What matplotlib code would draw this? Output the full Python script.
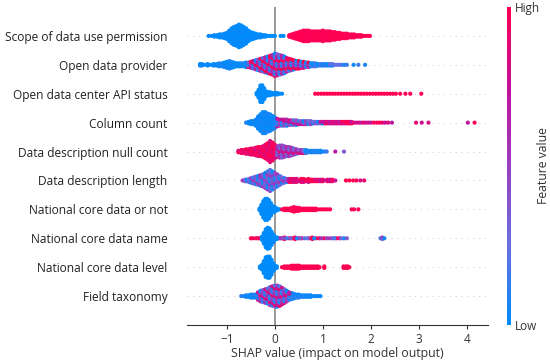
import numpy as np
import matplotlib
matplotlib.use('Agg')
import matplotlib.pyplot as plt
from matplotlib.cm import ScalarMappable
from matplotlib.colors import LinearSegmentedColormap

plt.rcParams['font.family'] = ['Open Sans', 'DejaVu Sans']

features = ['Scope of data use permission', 'Open data provider', 'Open data center API status',
            'Column count', 'Data description null count', 'Data description length',
            'National core data or not', 'National core data name', 'National core data level',
            'Field taxonomy']
x_ticks = [-1, 0, 1, 2, 3, 4]

# x = shap value, n = how many dots are piled up there
scope_low_x = [-1.38, -1.32, -1.26, -1.2, -1.15, -1.1, -1.05, -1.0, -.95, -.9, -.85, -.8, -.75, -.7, -.65, -.6, -.55,
               -.5, -.45, -.4, -.35, -.3, -.25, -.2, -.15, -.1, -.05, 0.0, .12, .18, .38, .62]
scope_low_n = [1, 1, 2, 2, 3, 3, 4, 5, 8, 11, 13, 14, 16, 15, 13, 11, 8, 6, 5, 4, 3, 3, 2, 2, 1, 1, 1, 1, 1, 1, 2, 1]
scope_high_x = [.3, .35, .4, .45, .5, .55, .6, .65, .7, .75, .8, .85, .9, .95, 1.0, 1.05, 1.1, 1.15, 1.2, 1.25, 1.3,
                1.35, 1.4, 1.45, 1.5, 1.55, 1.6, 1.65, 1.7, 1.75, 1.8, 1.85, 1.9, 1.95, 1.98]
scope_high_n = [2, 3, 4, 5, 6, 7, 8, 8, 8, 7, 7, 7, 7, 7, 8, 7, 7, 7, 6, 6, 5, 5, 4, 4, 4, 3, 3, 3, 2, 2, 2, 1, 1, 1, 1]

provider_low_x = [-1.56, -1.52, -1.46, -1.4, -1.34, -1.28, -1.22, -1.16, -1.1, -1.05, -1.0, -.95, -.9, -.85, -.8, -.75,
                  -.7, -.65, -.6]
provider_low_n = [2, 2, 1, 2, 1, 2, 2, 3, 3, 4, 5, 6, 5, 4, 3, 3, 3, 3, 4]
provider_mid_x = [-.55, -.5, -.45, -.4, -.35, -.3, -.25, -.2, -.15, -.1, -.05, 0.0, .05, .1, .15, .2, .25, .3, .35, .4,
                  .45, .5, .55, .6, .65, .7, .75]
provider_mid_n = [4, 5, 6, 7, 8, 9, 10, 11, 12, 13, 14, 16, 15, 14, 13, 12, 10, 9, 8, 7, 6, 6, 5, 5, 4, 4, 3]
provider_tail_x = [.8, .85, .9, .95, 1.0, 1.05, 1.1, 1.15, 1.2, 1.25, 1.3, 1.35, 1.4, 1.45, 1.5, 1.64, 1.74, 1.88]
provider_tail_n = [3, 3, 2, 2, 2, 2, 2, 2, 2, 1, 1, 1, 1, 1, 1, 1, 1, 1]

api_low_x = [-.38, -.34, -.3, -.26, -.22, -.18, -.14, -.1, -.05, 0.0, .05, .1, .15]
api_low_n = [2, 6, 12, 12, 8, 4, 3, 3, 2, 2, 2, 1, 1]
api_high_x = [.84, .9, .96, 1.02, 1.08, 1.14, 1.2, 1.26, 1.32, 1.38, 1.44, 1.5, 1.56, 1.62, 1.68, 1.74, 1.8, 1.86,
              1.92, 1.98, 2.04, 2.1, 2.16, 2.22, 2.28, 2.34, 2.4, 2.46, 2.52, 2.61, 2.72, 2.82, 3.05]
api_high_n = [1] * 33

column_low_x = [-.6, -.55, -.5, -.45, -.4, -.35, -.3, -.25, -.2, -.15, -.1, -.05, 0.0]
column_low_n = [1, 2, 3, 3, 5, 9, 12, 15, 15, 13, 12, 10, 8]
column_mid_x = [.05, .1, .15, .2, .25, .3, .35, .4, .45, .5, .55, .6, .65, .7, .75, .8, .85, .9, .95, 1.0]
column_mid_n = [6, 5, 5, 5, 5, 4, 4, 4, 4, 3, 3, 3, 3, 3, 3, 2, 2, 2, 2, 2]
column_high_x = [1.05, 1.1, 1.15, 1.2, 1.25, 1.3, 1.35, 1.4, 1.45, 1.5, 1.55, 1.6, 1.65, 1.7, 1.75, 1.8, 1.85, 1.9,
                 1.95, 2.0, 2.06, 2.12, 2.18, 2.24, 2.3, 2.36, 2.44, 2.94, 3.06, 3.2, 4.02, 4.16]
column_high_n = [2, 2, 2, 2, 2, 2, 2, 2, 2, 2, 2, 2, 1, 1, 1, 1, 1, 1, 1, 1, 1, 1, 1, 1, 1, 1, 1, 1, 1, 1, 1, 1]

null_high_x = [-.76, -.7, -.65, -.6, -.55, -.5, -.45, -.4, -.35, -.3, -.25, -.2, -.15, -.1, -.05, 0.0]
null_high_n = [2, 3, 3, 4, 4, 5, 5, 6, 7, 7, 8, 10, 12, 15, 13, 10]
null_mid_x = [.05, .1, .15, .2, .25, .3, .35, .4, .45, .5, .55, .6, 1.26, 1.44]
null_mid_n = [8, 9, 9, 8, 7, 7, 6, 5, 4, 3, 3, 3, 1, 1]
null_low_x = [.65, .7, .75, .8, .85, .9, .95, 1.0, 1.05, 1.08]
null_low_n = [3, 2, 2, 2, 2, 2, 2, 1, 1, 1]

length_mid_x = [-.67, -.62, -.58, -.54, -.5, -.45, -.4, -.35, -.3, -.25, -.2, -.15, -.1, -.05, 0.0, .05, .1, .15, .2,
                .25]
length_mid_n = [1, 2, 2, 3, 4, 5, 6, 7, 8, 9, 11, 13, 15, 13, 11, 9, 7, 5, 4, 3]
length_high_x = [.3, .35, .4, .45, .5, .55, .6, .65, .7, .75, .8, .85, .9, .95, 1.0, 1.05, 1.1, 1.15, 1.2, 1.26, 1.48,
                 1.55, 1.63, 1.7, 1.78, 1.86]
length_high_n = [3, 3, 3, 3, 2, 3, 3, 2, 3, 2, 2, 2, 2, 2, 2, 1, 2, 2, 2, 1, 1, 1, 1, 1, 1, 1]

core_low_x = [-.32, -.28, -.24, -.2, -.16, -.12, -.08, -.04, 0.0, .05, .1]
core_low_n = [2, 7, 12, 15, 15, 13, 9, 5, 4, 2, 1]
core_high_x = [.15, .2, .25, .3, .35, .4, .45, .5, .55, .6, .65, .7, .75, .8, .85, .9, .95, 1.0, 1.05, 1.1, 1.15, 1.6,
               1.65, 1.74]
core_high_n = [1, 2, 2, 2, 3, 4, 3, 3, 2, 2, 2, 2, 2, 2, 2, 1, 1, 1, 1, 1, 1, 1, 1, 1]

name_low_x = [-.27, -.23, -.19, -.15, -.11, -.07, -.03, 0.0, .04]
name_low_n = [3, 8, 13, 15, 14, 10, 6, 3, 2]
name_high_x = [-.5, -.46, -.4, -.36, -.32, .08, .14, .2, .3, .36, .42, .5, .56, .72, .78, .86, .92, 1.02, 1.28, 1.34]
name_high_n = [1, 1, 1, 1, 1, 1, 1, 2, 1, 1, 2, 1, 1, 1, 2, 1, 1, 1, 1, 1]
name_mix_x = [.11, .17, .25, .33, .46, .53, .62, .68, .82, .96, 1.08, 1.14, 1.2, 1.24, 1.38, 1.44, 1.5, 2.2, 2.24, 2.28]
name_mix_n = [1, 1, 1, 1, 1, 1, 1, 1, 1, 1, 1, 1, 1, 1, 1, 1, 1, 1, 2, 1]

level_low_x = [-.31, -.27, -.23, -.19, -.15, -.11, -.07, -.03, 0.0, .04]
level_low_n = [2, 4, 9, 14, 15, 15, 11, 6, 3, 2]
level_high_x = [.15, .2, .25, .3, .35, .4, .45, .5, .55, .6, .65, .7, .75, .8, .85, .9, .93, 1.03, 1.43, 1.48, 1.52,
                1.55]
level_high_n = [1, 2, 2, 2, 3, 3, 3, 3, 2, 2, 2, 2, 2, 2, 2, 2, 1, 2, 2, 2, 2, 1]

field_low_x = [-.7, -.65, -.6, -.55, -.5, -.45, -.4, .35, .4, .45, .5, .55, .6, .65, .7, .75, .8, .85, .9, .95]
field_low_n = [1, 1, 2, 2, 3, 3, 3, 5, 4, 3, 3, 2, 2, 2, 2, 2, 1, 1, 1, 1]
field_mid_x = [-.35, -.3, -.25, -.2, -.15, -.1, -.05, 0.0, .05, .1, .15, .2, .25, .3]
field_mid_n = [6, 8, 9, 10, 11, 13, 14, 15, 15, 14, 12, 10, 8, 6]

# x, n, feature value, spread of feature value inside a pile
rows = [
    [(scope_low_x, scope_low_n, 0.0, 0.03), (scope_high_x, scope_high_n, 1.0, 0.03)],
    [(provider_low_x, provider_low_n, 0.02, 0.04), (provider_mid_x, provider_mid_n, 0.55, 0.55),
     (provider_tail_x, provider_tail_n, 0.12, 0.12)],
    [(api_low_x, api_low_n, 0.0, 0.0), (api_high_x, api_high_n, 1.0, 0.0)],
    [(column_low_x, column_low_n, 0.03, 0.03), (column_mid_x, column_mid_n, 0.4, 0.4),
     (column_high_x, column_high_n, 0.85, 0.15)],
    [(null_high_x, null_high_n, 0.93, 0.1), (null_mid_x, null_mid_n, 0.55, 0.3), (null_low_x, null_low_n, 0.08, 0.08)],
    [(length_mid_x, length_mid_n, 0.28, 0.28), (length_high_x, length_high_n, 0.9, 0.15)],
    [(core_low_x, core_low_n, 0.0, 0.0), (core_high_x, core_high_n, 1.0, 0.0)],
    [(name_high_x, name_high_n, 0.97, 0.03), (name_mix_x, name_mix_n, 0.3, 0.25), (name_low_x, name_low_n, 0.0, 0.0)],
    [(level_low_x, level_low_n, 0.0, 0.0), (level_high_x, level_high_n, 1.0, 0.0)],
    [(field_low_x, field_low_n, 0.05, 0.05), (field_mid_x, field_mid_n, 0.45, 0.45)],
]
mix_cycle = [1, -1, 0.3, -0.6, 0.8, -0.2, -1, 0.5, 1, -0.4, 0.1]

red_blue = LinearSegmentedColormap.from_list('red_blue', ['#008bfb', '#6a6fe0', '#9a3fc0', '#c4109a', '#ff0052'])
text_color = '#333333'
stack_step = 0.052

fig = plt.figure(figsize=(5.5, 3.6), dpi=100)
ax = fig.add_axes([187 / 550, 35 / 360, 301 / 550, 318 / 360])

for i, segments in enumerate(rows):
    pos = len(rows) - 1 - i
    ax.axhline(pos, color='#cccccc', lw=0.7, linestyle=(0, (1, 5)), zorder=1)
    for xs, ns, value, spread in segments:
        px, py, pc = [], [], []
        for j, (x, n) in enumerate(zip(xs, ns)):
            for k in range(n):
                px.append(x)
                py.append(pos + (k - (n - 1) / 2) * stack_step)
                # piles of mixed colour: walk through the cycle so no stripes show
                pc.append(value + spread * mix_cycle[(3 * k + 7 * j) % len(mix_cycle)])
        ax.scatter(px, py, c=np.clip(pc, 0, 1), cmap=red_blue, vmin=0, vmax=1, s=9, linewidths=0, zorder=3)

ax.axvline(0, color='#999999', lw=1.4, zorder=2)

ax.set_xlim(-1.83, 4.44)
ax.set_ylim(-1, 10)
ax.set_yticks(range(len(features)))
ax.set_yticklabels(features[::-1], fontsize=8.6, color='#222222')
ax.set_xticks(x_ticks)
ax.tick_params(axis='y', length=0, pad=14)
ax.tick_params(axis='x', length=3, width=0.8, color=text_color, labelcolor=text_color, labelsize=8.5, pad=2.5)
ax.set_xlabel('SHAP value (impact on model output)', fontsize=8.85, color=text_color, labelpad=1)
for side in ['top', 'right', 'left']:
    ax.spines[side].set_visible(False)
ax.spines['bottom'].set_color(text_color)
ax.spines['bottom'].set_linewidth(0.8)

cax = fig.add_axes([506.5 / 550, 35 / 360, 4 / 550, 318 / 360])
cb = fig.colorbar(ScalarMappable(cmap=red_blue), cax=cax)
cb.set_ticks([0, 1])
cb.set_ticklabels(['Low', 'High'])
cb.ax.tick_params(length=0, labelsize=8.5, labelcolor=text_color, pad=3)
cb.outline.set_visible(False)
cb.set_label('Feature value', fontsize=8.8, color=text_color, labelpad=-2)

plt.savefig('out.png', dpi=100)
